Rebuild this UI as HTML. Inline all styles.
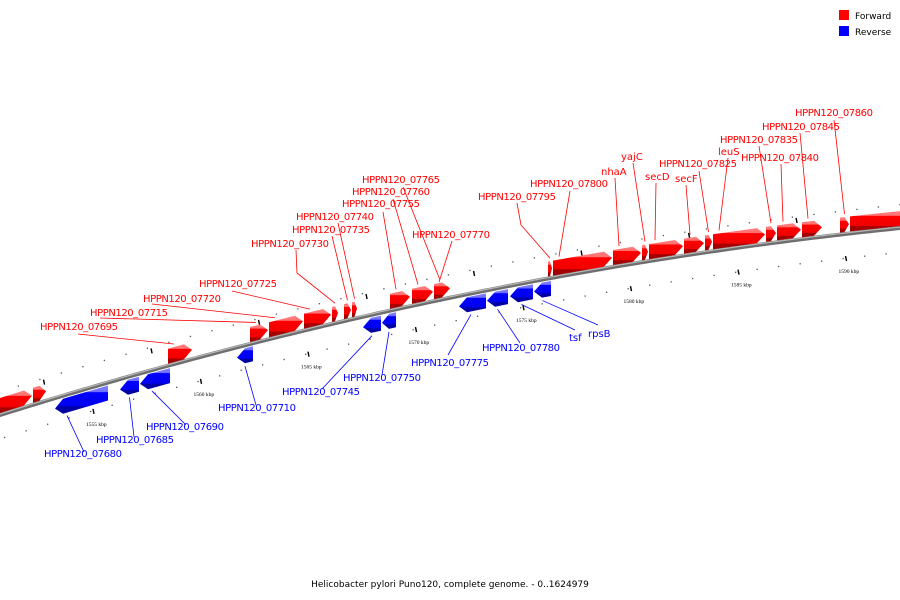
<!DOCTYPE html>
<html><head><meta charset="utf-8"><style>
html,body{margin:0;padding:0;background:#fff;}
svg{display:block;}
</style></head><body>
<svg id="chart" width="900" height="600" xmlns="http://www.w3.org/2000/svg" font-family="'DejaVu Sans','Liberation Sans',sans-serif">
<defs>
<linearGradient id="gRed" x1="0" y1="0" x2="0" y2="1">
<stop offset="0" stop-color="#ff8080"/><stop offset="0.22" stop-color="#ff7070"/><stop offset="0.25" stop-color="#ff0000"/><stop offset="0.72" stop-color="#f00000"/><stop offset="0.75" stop-color="#a80000"/><stop offset="1" stop-color="#a00000"/>
</linearGradient>
<linearGradient id="gBlue" x1="0" y1="0" x2="0" y2="1">
<stop offset="0" stop-color="#8080ff"/><stop offset="0.22" stop-color="#7070ff"/><stop offset="0.25" stop-color="#0000ff"/><stop offset="0.72" stop-color="#0000f0"/><stop offset="0.75" stop-color="#0000a8"/><stop offset="1" stop-color="#0000a0"/>
</linearGradient>
</defs>
<g id="ticks"></g>
<g id="backbone"></g>
<g id="leaders"></g>
<g id="genes"></g>
<g id="labels"></g>
<g>
<rect x="839" y="10" width="10" height="10" fill="#ff0000"/>
<text x="855" y="19" font-size="9" fill="#000">Forward</text>
<rect x="839" y="26" width="10" height="10" fill="#0000ff"/>
<text x="855" y="35" font-size="9" fill="#000">Reverse</text>
</g>
<text x="450" y="587" font-size="9" text-anchor="middle" fill="#000">Helicobacter pylori Puno120, complete genome. - 0..1624979</text>
</svg>
<script>
// ---- data (kbp) ----
var fwdStart = [1550.6,1552.209,1558.488,1562.302,1563.186,1564.814,1566.116,1566.674,1567.047,1568.814,1569.837,1570.860,1576.163,1576.395,1579.186,1580.535,1580.860,1582.488,1583.465,1583.837,1586.302,1586.814,1587.977,1589.744,1590.209];
var fwdEnd   = [1552.163,1552.814,1559.605,1563.140,1564.767,1566.070,1566.395,1567.000,1567.279,1569.744,1570.814,1571.605,1576.349,1579.140,1580.488,1580.814,1582.442,1583.419,1583.791,1586.256,1586.767,1587.930,1588.907,1590.163,1592.9];
var revStart = [1553.233,1556.256,1557.186,1561.698,1567.558,1568.442,1572.023,1573.326,1574.395,1575.512];
var revEnd   = [1555.698,1557.140,1558.581,1562.442,1568.395,1569.093,1573.279,1574.302,1575.465,1576.302];
var tickLabels = ["1555 kbp","1560 kbp","1565 kbp","1570 kbp","1575 kbp","1580 kbp","1585 kbp","1590 kbp"];
var tickValues = [1555,1560,1565,1570,1575,1580,1585,1590];
var fwdNames = ["","","HPPN120_07695","HPPN120_07715","HPPN120_07720","HPPN120_07725","HPPN120_07730","HPPN120_07735","HPPN120_07740","HPPN120_07755","HPPN120_07760","HPPN120_07765","HPPN120_07795","HPPN120_07800","nhaA","yajC","secD","secF","HPPN120_07825","leuS","HPPN120_07835","HPPN120_07840","HPPN120_07845","HPPN120_07860",""];
var revNames = ["HPPN120_07680","HPPN120_07685","HPPN120_07690","HPPN120_07710","HPPN120_07745","HPPN120_07750","HPPN120_07775","HPPN120_07780","tsf","rpsB"];

// ---- layout ----
var fwdLayout = {
 "HPPN120_07695":[40,330,78,334,null],
 "HPPN120_07715":[90,316,100,318,null],
 "HPPN120_07720":[143,302,152,304,null],
 "HPPN120_07725":[199,287,232,291,null],
 "HPPN120_07730":[251,247,296,250,[297,273]],
 "HPPN120_07735":[292,233,332,236,null],
 "HPPN120_07740":[296,220,338,223,null],
 "HPPN120_07755":[342,207,383,212,null],
 "HPPN120_07760":[352,195,393,199,null],
 "HPPN120_07765":[362,183,403,187,null],
 "HPPN120_07795":[478,200,517,203,[521,225]],
 "HPPN120_07800":[530,187,570,191,null],
 "nhaA":[601,175,615,178,null],
 "yajC":[621,160,633,163,null],
 "secD":[645,180,656,183,null],
 "secF":[675,182,686,185,null],
 "HPPN120_07825":[659,167,699,171,null],
 "leuS":[718,155,728,158,null],
 "HPPN120_07835":[720,143,759,146,null],
 "HPPN120_07840":[741,161,781,164,null],
 "HPPN120_07845":[762,130,800,133,null],
 "HPPN120_07860":[795,116,834,120,null]
};
var revLayout = {
 "HPPN120_07680":[44,457,84,452],
 "HPPN120_07685":[96,443,134,437],
 "HPPN120_07690":[146,430,186,425],
 "HPPN120_07710":[218,411,256,405],
 "HPPN120_07745":[282,395,322,389],
 "HPPN120_07750":[343,381,382,375],
 "HPPN120_07775":[411,366,448,355],
 "HPPN120_07780":[482,351,520,343],
 "tsf":[569,341,575,330],
 "rpsB":[588,337,598,325]
};
var NS="http://www.w3.org/2000/svg";
var GH=15;
function X(k){return 93+(k-1555)*21.5;}
function L(x){return 415-0.3133*x+0.0001173*x*x;}
function mk(tag,attrs,parent){var e=document.createElementNS(NS,tag);for(var a in attrs)e.setAttribute(a,attrs[a]);parent.appendChild(e);return e;}
var gB=document.getElementById('backbone'),gT=document.getElementById('ticks'),gG=document.getElementById('genes'),gL=document.getElementById('leaders'),gX=document.getElementById('labels');
var d="";for(var x=-5;x<=905;x+=5){d+=(x==-5?"M":"L")+x+","+L(x).toFixed(2);}
var bb1=mk('path',{d:d,fill:'none',stroke:'#6e6e6e','stroke-width':4},gB);


var bb2=mk('path',{d:d,fill:'none',stroke:'#b8b8b8','stroke-width':1.2,transform:'translate(0,-1)'},gB);


for(var k=1550;k<=1594;k++){
 var x=X(k+0.5);
 var a=mk('rect',{x:x,y:L(x)-24,width:1.3,height:1.3,fill:'#555'},gT);
 
 
 var x2=X(k);
 var b=mk('rect',{x:x2-3,y:L(x2)+24,width:1.3,height:1.3,fill:'#555'},gT);
 
 
}
for(var i=0;i<tickValues.length;i++){
 var x=X(tickValues[i]);var y=L(x);
 var t=mk('line',{x1:x,y1:y+22,x2:x+1,y2:y+27,stroke:'#000','stroke-width':1.4},gT);
 
 
 var tl=mk('text',{x:x-7,y:y+39,'font-size':5.5,'font-family':"'Liberation Serif',serif",fill:'#000'},gT);
 tl.textContent=tickLabels[i];
 
 
 var xa=X(tickValues[i]-2.3);
 var t2=mk('line',{x1:xa,y1:L(xa)-22,x2:xa+1,y2:L(xa)-17,stroke:'#000','stroke-width':1.4},gT);
 
 
}
function gene(x1,x2,fwd,name){
 var h=Math.min(8,(x2-x1)*0.5),p;
 if(fwd){
  var b1=L(x1)-2,t1=b1-GH,b2=L(x2)-2,t2=b2-GH,bh=L(x2-h)-2,th=bh-GH;
  p=[[x1,t1],[x2-h,th],[x2,(b2+t2)/2],[x2-h,bh],[x1,b1]];
 } else {
  var t1=L(x1)+3,b1=t1+GH,t2=L(x2)+3,b2=t2+GH,th=L(x1+h)+3,bh=th+GH;
  p=[[x1,(t1+b1)/2],[x1+h,th],[x2,t2],[x2,b2],[x1+h,bh]];
 }
 var g=mk('polygon',{points:p.map(function(q){return q[0].toFixed(1)+","+q[1].toFixed(1);}).join(" "),fill:fwd?'url(#gRed)':'url(#gBlue)'},gG);
 
 
}
function label(name,lay,ex,ey,color,wide){
 var tx=mk('text',{x:lay[0],y:lay[1],'font-size':10,fill:color},gX);
 if(wide)tx.setAttribute('textLength',78);
 tx.textContent=name;
 
 
 var pts=[[lay[2],lay[3]]];if(lay[4])pts.push(lay[4]);pts.push([ex,ey]);
 var ln=mk('polyline',{points:pts.map(function(q){return q[0]+","+q[1];}).join(" "),fill:'none',stroke:color,'stroke-width':0.8},gL);
 
 
}
for(var i=0;i<fwdStart.length;i++){
 var x1=X(fwdStart[i]),x2=X(fwdEnd[i]);
 gene(x1,x2,true,fwdNames[i]);
 var n=fwdNames[i];
 if(n&&fwdLayout[n]){var ex=x1+Math.min(6,(x2-x1)/2);label(n,fwdLayout[n],ex,L(ex)-20,'#ff0000',n.length>8);}
}
for(var i=0;i<revStart.length;i++){
 var x1=X(revStart[i]),x2=X(revEnd[i]);
 gene(x1,x2,false,revNames[i]);
 var n=revNames[i];
 if(n&&revLayout[n]){var ex=x1+Math.min(12,(x2-x1)/2);label(n,revLayout[n],ex,L(ex)+21,'#0000ff',n.length>8);}
}
(function(){var x=X(fwdEnd[10])+6;label("HPPN120_07770",[412,238,452,241,null],x,L(x)-18,'#ff0000',true);})();
</script>
</body></html>
